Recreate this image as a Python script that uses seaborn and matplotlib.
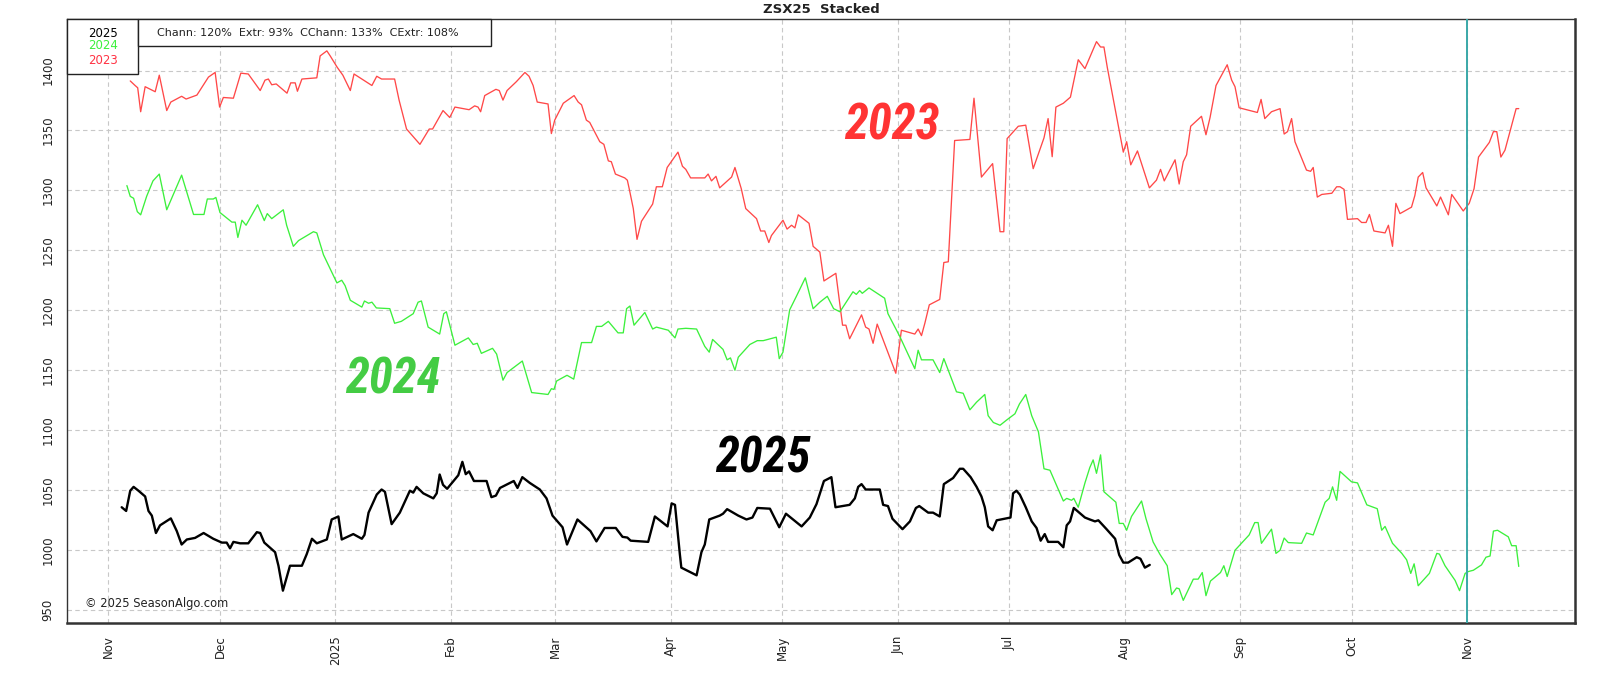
import matplotlib
matplotlib.use("Agg")
import matplotlib.pyplot as plt
import matplotlib.dates as mdates
import matplotlib.patches as mpatches
from matplotlib import font_manager
from matplotlib.ticker import FuncFormatter
import pandas as pd
import seaborn as sns

# days counted from 2024-11-01 (seasonal x axis), values in cents
days_2025 = [
    3.6, 4.8, 5.9, 6.8, 8.1, 9.9, 10.8, 11.7, 12.8, 13.9,
    16.8, 18.4, 19.7, 21.1, 23.3, 25.6, 28.2, 30.5, 31.8, 32.7,
    33.6, 35.4, 37.6, 39.9, 40.8, 41.9, 44.8, 45.7, 46.9, 48.8,
    52.0, 53.3, 54.7, 56.0, 58.7, 60.0, 61.8, 62.7, 65.8, 68.1,
    68.8, 69.9, 72.1,
    73.4, 74.3, 76.1, 78.3, 81.0, 81.9, 82.8, 84.6, 87.3, 88.2,
    89.0, 89.9, 91.0, 94.0, 95.1, 96.0, 96.9, 98.2, 101.6, 102.9,
    104.1, 105.2, 108.9, 109.9, 111.2, 113.2, 115.9, 117.7, 119.3, 122.0,
    123.2, 126.0, 129.5, 131.1, 133.3, 136.3, 138.1, 139.4, 140.3, 145.0,
    146.8, 150.2, 151.3, 152.2, 153.5,
    153.9, 158.0, 159.3, 160.2, 161.4, 164.2, 165.1, 166.2, 169.2, 171.4,
    173.0, 174.3, 177.7, 180.2, 182.0, 186.2, 188.4, 190.2, 192.2, 194.2,
    195.3, 199.1, 200.5, 201.4, 202.3, 203.4, 207.2, 208.1, 209.4, 210.6,
    213.3, 215.3, 216.9, 217.8, 220.2, 221.5, 223.3, 224.4, 226.9, 228.7,
    229.6, 231.6,
    233.2, 234.5, 235.4, 236.3, 237.5, 238.6, 242.3, 243.0, 243.9, 244.8,
    246.4, 248.0, 249.3, 250.4, 251.5, 252.4, 255.1, 256.5, 257.4, 258.3,
    259.3, 262.3, 263.6, 265.0, 265.9, 268.1, 270.4, 271.5, 272.6, 273.9,
    276.2, 277.2, 278.4, 279.7,
]
values_2025 = [
    1035.6, 1032.5, 1049.4, 1052.6, 1049.4, 1044.6, 1032.5, 1028.6, 1014.1, 1020.5,
    1026.3, 1015.7, 1004.5, 1008.7, 1010.0, 1014.1, 1009.3, 1006.1, 1006.1, 1001.3,
    1006.7, 1005.5, 1005.5, 1014.8, 1014.1, 1006.1, 998.1, 986.8, 966.0, 986.8,
    986.8, 996.5, 1009.3, 1005.5, 1008.7, 1025.4, 1027.9, 1008.7, 1013.2, 1009.3,
    1012.5, 1031.1, 1046.2,
    1050.4, 1048.5, 1021.5, 1031.1, 1049.4, 1047.8, 1052.6, 1047.2, 1043.0, 1047.2,
    1062.9, 1054.3, 1051.0, 1062.3, 1073.5, 1063.2, 1065.5, 1057.5, 1057.5, 1044.0,
    1045.3, 1051.7, 1057.5, 1051.7, 1060.7, 1055.9, 1050.4, 1043.0, 1028.6, 1018.9,
    1004.5, 1025.4, 1015.7, 1007.1, 1018.3, 1018.3, 1010.9, 1010.3, 1007.7, 1006.7,
    1027.9, 1019.6, 1038.8, 1037.6, 996.5,
    985.2, 978.8, 998.1, 1004.5, 1025.4, 1028.6, 1030.2, 1034.0, 1028.6, 1025.4,
    1027.0, 1035.0, 1034.4, 1018.9, 1030.2, 1019.6, 1027.0, 1038.2, 1057.5, 1060.7,
    1035.6, 1037.6, 1043.0, 1052.6, 1054.9, 1050.4, 1050.4, 1037.6, 1036.6, 1026.0,
    1017.3, 1023.8, 1035.0, 1036.6, 1031.1, 1031.1, 1027.9, 1054.9, 1060.0, 1067.7,
    1067.7, 1060.7,
    1052.6, 1044.6, 1035.6, 1019.6, 1016.4, 1024.7, 1027.0, 1047.2, 1049.4, 1046.2,
    1035.6, 1023.8, 1018.3, 1007.7, 1013.2, 1006.7, 1006.7, 1002.2, 1020.5, 1023.8,
    1035.0, 1027.0, 1025.4, 1023.8, 1024.7, 1017.3, 1009.3, 995.8, 989.4, 989.4,
    993.9, 992.6, 985.2, 987.5,
]

days_2024 = [
    5.0, 5.9, 6.8, 7.8, 8.7, 10.3, 12.0, 13.7, 15.7, 19.7,
    22.9, 25.7, 26.6, 28.2, 28.9, 30.0, 33.2, 34.1, 34.8, 35.9,
    37.0, 40.1, 41.9, 42.7, 43.9, 47.0, 47.9, 49.7, 51.1, 55.1,
    56.0, 57.8, 61.4, 62.7, 63.6, 65.0, 68.1, 68.8, 69.9, 70.8,
    72.0, 75.6, 76.9, 78.7, 81.9, 83.2, 84.1, 85.9, 89.0, 90.1,
    90.8, 93.1, 96.7, 98.0, 99.1, 100.2, 103.2, 104.3, 106.0, 107.1,
    111.2, 113.7, 118.1, 119.0, 119.7, 120.4, 123.2, 125.0, 127.1, 129.8,
    131.1, 132.5, 134.3, 136.9, 138.3, 139.2, 140.1, 141.2, 144.1, 146.2,
    147.2, 150.4, 152.2,
    153.0, 155.1, 158.0, 160.2, 161.4, 162.3, 165.1, 166.2, 167.1, 168.3,
    169.2, 172.3, 174.3, 175.9, 179.4, 180.2, 181.2, 183.0, 184.8, 187.2,
    189.3, 191.1, 193.1, 194.8, 196.5, 200.0, 200.9, 201.8, 202.5, 204.3,
    208.5, 209.4, 212.6, 216.6, 217.5, 218.4, 221.5, 223.3, 224.4, 227.8,
    229.6, 231.4,
    233.2, 235.4, 236.3, 237.7, 239.5, 241.2, 243.5, 244.7, 246.4, 248.0,
    249.8, 251.3, 252.9, 256.5, 257.4, 258.7, 259.3, 260.5, 262.3, 263.6,
    264.5, 265.4, 266.5, 267.4, 270.6, 271.5, 272.6, 273.5, 274.8, 277.5,
    278.7, 280.6, 282.4, 284.4, 285.6, 286.9, 287.6, 288.7, 291.4, 292.7,
    293.8, 294.8, 296.0, 298.7, 299.6, 300.5, 302.6, 306.4, 307.9, 308.8,
    309.7, 312.4, 313.6,
    314.7, 315.8, 316.9, 320.5, 321.8, 323.6, 326.8, 327.9, 328.8, 329.9,
    330.8, 333.9, 335.5, 338.0, 340.8, 342.0, 342.9, 344.9, 347.4, 348.7,
    349.8, 350.7, 351.8, 354.8, 356.8, 357.5, 359.0, 361.7, 362.9, 364.4,
    365.3, 366.6, 368.8, 370.0, 371.1, 372.0, 373.1, 376.0, 376.9, 378.1,
    378.8,
]
values_2024 = [
    1304.0, 1295.0, 1293.4, 1282.2, 1279.6, 1295.0, 1307.9, 1313.6, 1283.8, 1312.7,
    1279.9, 1279.9, 1292.8, 1292.8, 1294.1, 1281.5, 1273.5, 1273.5, 1260.7, 1275.1,
    1270.9, 1288.0, 1274.8, 1280.6, 1276.4, 1283.8, 1270.9, 1253.3, 1258.1, 1265.5,
    1264.5, 1246.2, 1222.8, 1225.0, 1220.5, 1208.3, 1202.6, 1207.7, 1205.8, 1206.7,
    1201.9, 1201.3, 1189.1, 1190.7, 1197.1, 1206.7, 1207.7, 1185.9, 1180.1, 1197.1,
    1198.7, 1170.8, 1176.9, 1171.4, 1172.4, 1164.0, 1168.2, 1163.4, 1141.6, 1148.0,
    1157.6, 1131.3, 1129.7, 1134.5, 1133.9, 1140.9, 1145.7, 1142.5, 1173.0, 1173.0,
    1186.5, 1186.5, 1190.7, 1181.1, 1181.1, 1201.3, 1203.5, 1187.5, 1198.1, 1184.3,
    1185.9, 1183.3, 1176.9,
    1184.3, 1184.9, 1184.3, 1169.8, 1165.0, 1175.6, 1167.3, 1158.6, 1160.2, 1149.9,
    1160.8, 1171.4, 1174.6, 1174.6, 1177.5, 1159.6, 1165.0, 1200.3, 1211.6, 1227.0,
    1201.3, 1206.7, 1211.6, 1201.3, 1198.7, 1215.4, 1213.2, 1216.4, 1214.1, 1218.6,
    1210.0, 1197.1, 1177.9, 1151.2, 1166.6, 1158.6, 1158.6, 1148.0, 1159.6, 1131.9,
    1130.7, 1116.9,
    1123.3, 1129.7, 1112.0, 1106.3, 1104.0, 1108.2, 1113.6, 1121.7, 1129.7, 1112.0,
    1098.6, 1067.7, 1066.5, 1040.8, 1043.0, 1041.4, 1043.0, 1035.6, 1055.9, 1068.7,
    1075.1, 1063.9, 1079.3, 1048.5, 1039.8, 1022.1, 1022.1, 1016.4, 1027.9, 1040.8,
    1026.0, 1006.7, 996.5, 986.8, 962.7, 968.2, 967.6, 957.9, 975.6, 975.6,
    981.1, 961.8, 974.0, 981.1, 986.8, 977.8, 999.7, 1012.5, 1022.8, 1022.8,
    1005.5, 1017.3, 997.1,
    999.7, 1009.9, 1006.1, 1005.5, 1014.1, 1012.5, 1039.8, 1043.0, 1052.6, 1041.4,
    1065.5, 1056.8, 1055.9, 1037.6, 1034.4, 1016.4, 1019.6, 1005.5, 997.1, 991.7,
    980.4, 988.4, 970.1, 980.4, 997.1, 996.5, 986.8, 974.6, 966.0, 980.4,
    982.0, 983.0, 987.5, 993.9, 994.9, 1015.7, 1016.4, 1010.9, 1003.5, 1003.5,
    986.2,
]

days_2023 = [
    5.9, 7.2, 7.9, 8.7, 9.9, 12.6, 13.7, 15.7, 16.8, 19.7,
    20.9, 23.8, 26.9, 28.7, 29.9, 30.9, 33.6, 35.6, 37.6, 40.8,
    42.1, 43.0, 43.9, 45.1, 48.0, 49.0, 50.2, 50.8, 52.0, 56.0,
    56.9, 58.7, 59.6, 61.5, 63.0, 65.0, 66.0, 70.8, 72.1,
    73.4, 76.9, 78.1, 80.1, 83.7, 86.2, 87.1, 89.9, 91.7, 93.1,
    96.9, 98.4, 99.3, 100.0, 101.1, 104.1, 105.0, 106.0, 107.1, 109.6,
    111.9, 113.0, 114.1, 115.2, 118.1, 119.0, 119.9, 122.2, 125.1, 126.2,
    127.1, 128.4, 129.3, 132.0, 133.1, 134.3, 135.1, 136.2, 138.7, 139.4,
    139.9, 141.0, 142.0, 143.2, 146.2, 147.2, 148.8, 150.1,
    153.0, 154.2, 155.1, 156.4, 160.2, 161.1, 162.0, 163.2, 164.2, 167.4,
    168.3, 170.0, 171.2, 174.1, 175.2, 176.3, 177.4, 178.1, 181.2, 182.3,
    183.5, 184.4, 185.3, 188.2, 189.3, 191.1, 192.2, 195.4, 197.2, 198.1,
    199.1, 202.3, 203.4, 204.3, 205.4, 206.5, 211.5, 213.0, 216.6, 217.5,
    218.4, 219.3, 220.5, 223.3, 224.4, 225.6, 227.3,
    231.4, 232.5, 234.5, 237.5, 239.5, 240.5, 241.4, 244.4, 246.4, 248.4,
    251.3, 252.4, 253.5, 254.5, 256.5, 258.4, 260.5, 262.3, 265.4, 266.5,
    267.4, 268.3, 272.6, 273.5, 274.6, 276.4, 279.6, 281.5, 282.6, 283.6,
    286.5, 287.6, 288.7, 289.6, 290.7, 293.6, 294.8, 295.9, 297.5, 300.5,
    301.7, 302.6, 303.7, 308.6, 309.6, 310.6, 312.4,
    314.7, 315.8, 316.7, 317.8, 318.7, 321.8, 322.9, 323.6, 324.7, 325.9,
    328.6, 329.9, 330.8, 331.9, 332.8, 335.5, 336.6, 337.8, 338.7, 339.9,
    342.9, 343.8, 344.9, 345.8, 346.9, 350.0, 350.9, 351.8, 353.0, 353.9,
    356.8, 357.8, 359.9, 360.8, 363.9, 365.5, 366.8, 368.0, 370.9, 372.0,
    372.9, 374.0, 375.1, 376.5, 378.1, 378.8,
]
values_2023 = [
    1391.3, 1387.5, 1385.6, 1365.6, 1386.5, 1382.3, 1396.1, 1366.6, 1373.7, 1378.5,
    1376.2, 1379.5, 1394.5, 1398.4, 1369.5, 1377.5, 1376.9, 1397.8, 1397.1, 1383.3,
    1392.0, 1392.9, 1388.1, 1388.8, 1381.1, 1389.7, 1389.7, 1382.7, 1392.9, 1393.9,
    1412.2, 1416.4, 1412.2, 1402.6, 1396.1, 1383.3, 1397.1, 1387.5, 1395.2,
    1392.9, 1392.9, 1375.3, 1351.2, 1338.4, 1351.2, 1351.2, 1366.6, 1360.8, 1369.5,
    1367.3, 1370.5, 1369.5, 1365.6, 1379.1, 1384.3, 1383.3, 1375.3, 1383.3, 1390.7,
    1398.4, 1395.2, 1387.5, 1373.7, 1372.1, 1347.4, 1358.6, 1372.7, 1379.1, 1373.7,
    1371.4, 1358.6, 1356.7, 1340.6, 1338.4, 1324.6, 1323.9, 1313.6, 1310.4, 1308.5,
    1301.4, 1284.8, 1259.1, 1274.2, 1288.6, 1303.0, 1303.0, 1319.1,
    1331.9, 1320.1, 1317.5, 1310.4, 1310.4, 1313.6, 1307.9, 1311.7, 1302.1, 1311.1,
    1319.1, 1301.4, 1284.8, 1276.4, 1266.1, 1266.1, 1256.5, 1262.3, 1275.1, 1267.7,
    1270.9, 1268.7, 1279.6, 1272.5, 1253.3, 1248.5, 1224.4, 1230.8, 1187.5, 1187.5,
    1176.2, 1196.1, 1185.9, 1184.3, 1172.4, 1188.4, 1147.4, 1183.3, 1180.1, 1184.3,
    1178.8, 1189.1, 1204.5, 1209.0, 1239.8, 1240.4, 1341.6,
    1342.5, 1376.9, 1311.1, 1322.3, 1265.5, 1265.5, 1343.2, 1353.5, 1354.4, 1318.1,
    1343.8, 1359.9, 1328.1, 1369.5, 1372.7, 1377.8, 1409.0, 1401.6, 1424.1, 1419.6,
    1419.6, 1402.6, 1331.9, 1340.6, 1321.3, 1332.9, 1302.1, 1308.5, 1317.5, 1307.9,
    1325.5, 1305.3, 1323.9, 1329.7, 1353.5, 1361.8, 1346.4, 1360.8, 1387.5, 1404.8,
    1392.0, 1386.5, 1368.9, 1365.0, 1375.9, 1359.9, 1365.6,
    1368.2, 1347.0, 1349.0, 1359.9, 1340.6, 1316.9, 1315.9, 1319.1, 1294.4, 1296.6,
    1297.6, 1303.0, 1303.0, 1300.8, 1275.8, 1276.4, 1273.2, 1273.2, 1279.9, 1266.1,
    1264.5, 1270.9, 1253.3, 1289.2, 1280.6, 1286.0, 1295.7, 1311.1, 1314.9, 1302.1,
    1287.0, 1294.4, 1279.6, 1296.6, 1282.8, 1289.2, 1301.4, 1327.8, 1340.0, 1349.0,
    1349.0, 1327.8, 1333.5, 1349.6, 1368.2, 1368.2,
]

years = ["2025", "2024", "2023"]
stats_text = "Chann: 120%  Extr: 93%  CChann: 133%  CExtr: 108%"
title = "ZSX25  Stacked"
marker_day = 364.8
y_ticks = [950, 1000, 1050, 1100, 1150, 1200, 1250, 1300, 1350, 1400]

BASE = pd.Timestamp("2024-11-01")
LINE_COLORS = {"2025": "#000000", "2024": "#3cf03c", "2023": "#ff4848"}
LABEL_COLORS = {"2025": "#000000", "2024": "#44cc44", "2023": "#ff3333"}


def to_dates(days):
    return BASE + pd.to_timedelta(days, unit="D")


def build_frame():
    parts = []
    for year, d, v in [
        ("2025", days_2025, values_2025),
        ("2024", days_2024, values_2024),
        ("2023", days_2023, values_2023),
    ]:
        assert len(d) == len(v), year
        parts.append(pd.DataFrame({"date": to_dates(d), "price": v, "year": year}))
    return pd.concat(parts, ignore_index=True)


def pick_narrow_font():
    """
    Find a condensed face for the big year labels.
    """
    fonts = font_manager.fontManager.ttflist
    names = {f.name for f in fonts}
    for name in ["Liberation Sans Narrow", "Roboto Condensed", "Open Sans Condensed"]:
        if name in names:
            return {"family": name, "fontstretch": "normal", "size": 35}
    for f in fonts:
        if f.name == "DejaVu Sans" and f.stretch == "condensed":
            return {"family": "DejaVu Sans", "fontstretch": "condensed", "size": 33}
    if "Roboto" in names:
        return {"family": "Roboto", "fontstretch": "normal", "size": 30}
    return {"family": "DejaVu Sans", "fontstretch": "normal", "size": 27}


sns.set_theme(style="white")
plt.rcParams["font.family"] = ["DejaVu Sans"]

big = pick_narrow_font()
df = build_frame()

fig = plt.figure(figsize=(16.21, 6.78), dpi=100)
ax = fig.add_axes([0.0413, 0.0811, 0.9303, 0.8909])

for year in ["2023", "2024", "2025"]:
    sns.lineplot(
        data=df[df["year"] == year],
        x="date",
        y="price",
        color=LINE_COLORS[year],
        linewidth=1.7 if year == "2025" else 0.95,
        estimator=None,
        sort=False,
        ax=ax,
        zorder=3 if year == "2025" else 2,
    )

ax.axvline(to_dates([marker_day])[0], color="#3aa8a8", linewidth=1.4, zorder=4)

ax.set_xlim(to_dates([-11.1])[0], to_dates([393.9])[0])
ax.set_ylim(939, 1443)
ax.set_yticks(y_ticks)
ax.xaxis.set_major_locator(mdates.MonthLocator())
ax.xaxis.set_major_formatter(
    FuncFormatter(lambda x, pos: mdates.num2date(x).strftime("%Y" if mdates.num2date(x).month == 1 else "%b"))
)
ax.set_xlabel("")
ax.set_ylabel("")

ax.grid(True, color="#c8c8c8", linestyle=(0, (4, 3)), linewidth=0.8)
ax.tick_params(axis="both", length=0, labelsize=8.5, pad=9, colors="#222222")
plt.setp(ax.get_xticklabels(), rotation=90)
plt.setp(ax.get_yticklabels(), rotation=90, va="center")

for side, spine in ax.spines.items():
    spine.set_visible(True)
    spine.set_color("#333333")
    spine.set_linewidth(1.8 if side in ("right", "bottom") else 1.0)

ax.set_title(title, fontsize=9.5, fontweight="bold", pad=4, color="#222222")

# big year labels
for year, d, v in [("2023", 210.4, 1353.5), ("2024", 76.4, 1141.5), ("2025", 175.8, 1075.5)]:
    ax.text(
        to_dates([d])[0], v, year,
        color=LABEL_COLORS[year],
        fontsize=big["size"],
        fontweight="bold",
        fontstyle="italic",
        fontstretch=big["fontstretch"],
        family=big["family"],
        ha="center",
        va="center",
        zorder=5,
    )

# legend box and stats box in the top left corner
fig.patches.append(mpatches.Rectangle(
    (0.0413, 0.8909), 0.0438, 0.0811, transform=fig.transFigure,
    facecolor="white", edgecolor="#222222", linewidth=1.0, zorder=10,
))
fig.patches.append(mpatches.Rectangle(
    (0.0851, 0.9322), 0.2178, 0.0398, transform=fig.transFigure,
    facecolor="white", edgecolor="#222222", linewidth=1.0, zorder=10,
))
for year, y in zip(years, [0.9513, 0.9322, 0.9115]):
    fig.text(0.0635, y, year, color=LINE_COLORS[year] if year != "2023" else "#ff3344",
             fontsize=8.5, ha="center", va="center", zorder=11)
fig.text(0.0968, 0.9513, stats_text, fontsize=8, ha="left", va="center", color="#222222", zorder=11)

ax.text(0.012, 0.022, "\u00a9 2025 SeasonAlgo.com", transform=ax.transAxes,
        fontsize=8.3, color="#222222", ha="left", va="bottom", zorder=6)

fig.savefig("out.png", dpi=100, facecolor="white")
